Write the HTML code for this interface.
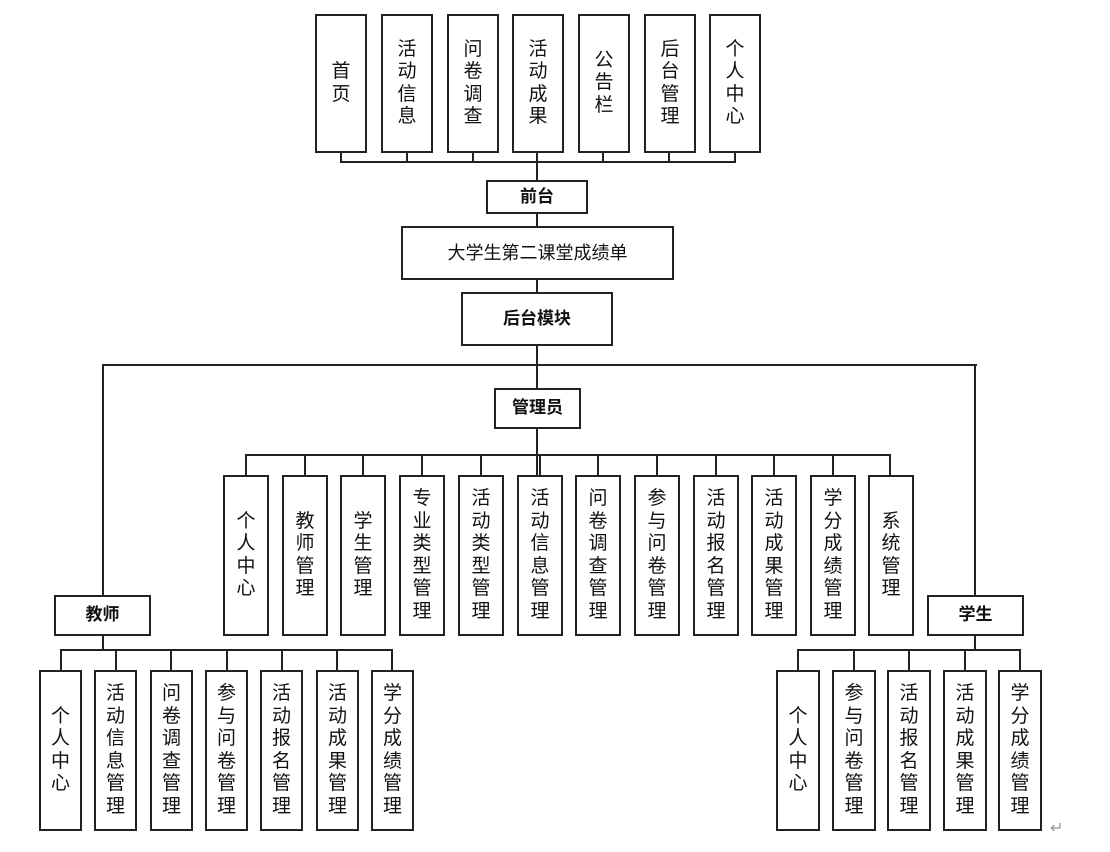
<!DOCTYPE html>
<html><head><meta charset="utf-8"><style>
body{margin:0;width:1110px;height:852px;background:#fff;position:relative;overflow:hidden;font-family:"Liberation Sans","Noto Sans CJK SC",sans-serif;color:#111}
.b{position:absolute;border:2px solid #222;box-sizing:border-box;display:flex;align-items:center;justify-content:center;text-align:center;font-size:19px;line-height:22.5px;background:#fff}
.b span{display:block;width:1.05em;word-break:break-all}
.h{font-weight:bold;font-size:17px}
.l{position:absolute;background:#222}
</style></head><body>
<!-- top connectors -->
<div class="l" style="left:340px;top:151px;width:2px;height:12px"></div>
<div class="l" style="left:406px;top:151px;width:2px;height:12px"></div>
<div class="l" style="left:472px;top:151px;width:2px;height:12px"></div>
<div class="l" style="left:602px;top:151px;width:2px;height:12px"></div>
<div class="l" style="left:668px;top:151px;width:2px;height:12px"></div>
<div class="l" style="left:734px;top:151px;width:2px;height:12px"></div>
<div class="l" style="left:340px;top:161px;width:396px;height:2px"></div>
<div class="l" style="left:536px;top:151px;width:2px;height:346px"></div>
<div class="l" style="left:102px;top:364px;width:875px;height:2px"></div>
<div class="l" style="left:102px;top:364px;width:2px;height:232px"></div>
<div class="l" style="left:974px;top:364px;width:2px;height:232px"></div>
<!-- admin connectors -->
<div class="l" style="left:245px;top:454px;width:646px;height:2px"></div>
<div class="l" style="left:245px;top:454px;width:2px;height:22px"></div>
<div class="l" style="left:304px;top:454px;width:2px;height:22px"></div>
<div class="l" style="left:362px;top:454px;width:2px;height:22px"></div>
<div class="l" style="left:421px;top:454px;width:2px;height:22px"></div>
<div class="l" style="left:480px;top:454px;width:2px;height:22px"></div>
<div class="l" style="left:539px;top:454px;width:2px;height:22px"></div>
<div class="l" style="left:597px;top:454px;width:2px;height:22px"></div>
<div class="l" style="left:656px;top:454px;width:2px;height:22px"></div>
<div class="l" style="left:715px;top:454px;width:2px;height:22px"></div>
<div class="l" style="left:773px;top:454px;width:2px;height:22px"></div>
<div class="l" style="left:832px;top:454px;width:2px;height:22px"></div>
<div class="l" style="left:889px;top:454px;width:2px;height:22px"></div>
<!-- teacher connectors -->
<div class="l" style="left:102px;top:634px;width:2px;height:16px"></div>
<div class="l" style="left:60px;top:649px;width:333px;height:2px"></div>
<div class="l" style="left:60px;top:649px;width:2px;height:22px"></div>
<div class="l" style="left:115px;top:649px;width:2px;height:22px"></div>
<div class="l" style="left:170px;top:649px;width:2px;height:22px"></div>
<div class="l" style="left:226px;top:649px;width:2px;height:22px"></div>
<div class="l" style="left:281px;top:649px;width:2px;height:22px"></div>
<div class="l" style="left:336px;top:649px;width:2px;height:22px"></div>
<div class="l" style="left:391px;top:649px;width:2px;height:22px"></div>
<!-- student connectors -->
<div class="l" style="left:974px;top:634px;width:2px;height:16px"></div>
<div class="l" style="left:797px;top:649px;width:224px;height:2px"></div>
<div class="l" style="left:797px;top:649px;width:2px;height:22px"></div>
<div class="l" style="left:853px;top:649px;width:2px;height:22px"></div>
<div class="l" style="left:908px;top:649px;width:2px;height:22px"></div>
<div class="l" style="left:964px;top:649px;width:2px;height:22px"></div>
<div class="l" style="left:1019px;top:649px;width:2px;height:22px"></div>

<!-- top boxes -->
<div class="b" style="left:315px;top:14px;width:52px;height:139px"><span>首页</span></div>
<div class="b" style="left:381px;top:14px;width:52px;height:139px"><span>活动信息</span></div>
<div class="b" style="left:447px;top:14px;width:52px;height:139px"><span>问卷调查</span></div>
<div class="b" style="left:512px;top:14px;width:52px;height:139px"><span>活动成果</span></div>
<div class="b" style="left:578px;top:14px;width:52px;height:139px"><span>公告栏</span></div>
<div class="b" style="left:644px;top:14px;width:52px;height:139px"><span>后台管理</span></div>
<div class="b" style="left:709px;top:14px;width:52px;height:139px"><span>个人中心</span></div>

<div class="b h" style="left:486px;top:180px;width:102px;height:34px">前台</div>
<div class="b" style="left:401px;top:226px;width:273px;height:54px;font-size:18px">大学生第二课堂成绩单</div>
<div class="b h" style="left:461px;top:292px;width:152px;height:54px">后台模块</div>
<div class="b h" style="left:494px;top:388px;width:87px;height:41px">管理员</div>

<!-- admin boxes -->
<div class="b" style="left:223px;top:475px;width:46px;height:161px"><span>个人中心</span></div>
<div class="b" style="left:282px;top:475px;width:46px;height:161px"><span>教师管理</span></div>
<div class="b" style="left:340px;top:475px;width:46px;height:161px"><span>学生管理</span></div>
<div class="b" style="left:399px;top:475px;width:46px;height:161px"><span>专业类型管理</span></div>
<div class="b" style="left:458px;top:475px;width:46px;height:161px"><span>活动类型管理</span></div>
<div class="b" style="left:517px;top:475px;width:46px;height:161px"><span>活动信息管理</span></div>
<div class="b" style="left:575px;top:475px;width:46px;height:161px"><span>问卷调查管理</span></div>
<div class="b" style="left:634px;top:475px;width:46px;height:161px"><span>参与问卷管理</span></div>
<div class="b" style="left:693px;top:475px;width:46px;height:161px"><span>活动报名管理</span></div>
<div class="b" style="left:751px;top:475px;width:46px;height:161px"><span>活动成果管理</span></div>
<div class="b" style="left:810px;top:475px;width:46px;height:161px"><span>学分成绩管理</span></div>
<div class="b" style="left:868px;top:475px;width:46px;height:161px"><span>系统管理</span></div>

<div class="b h" style="left:54px;top:595px;width:97px;height:41px">教师</div>
<div class="b h" style="left:927px;top:595px;width:97px;height:41px">学生</div>

<!-- teacher boxes -->
<div class="b" style="left:39px;top:670px;width:43px;height:161px"><span>个人中心</span></div>
<div class="b" style="left:94px;top:670px;width:43px;height:161px"><span>活动信息管理</span></div>
<div class="b" style="left:150px;top:670px;width:43px;height:161px"><span>问卷调查管理</span></div>
<div class="b" style="left:205px;top:670px;width:43px;height:161px"><span>参与问卷管理</span></div>
<div class="b" style="left:260px;top:670px;width:43px;height:161px"><span>活动报名管理</span></div>
<div class="b" style="left:316px;top:670px;width:43px;height:161px"><span>活动成果管理</span></div>
<div class="b" style="left:371px;top:670px;width:43px;height:161px"><span>学分成绩管理</span></div>

<!-- student boxes -->
<div class="b" style="left:776px;top:670px;width:44px;height:161px"><span>个人中心</span></div>
<div class="b" style="left:832px;top:670px;width:44px;height:161px"><span>参与问卷管理</span></div>
<div class="b" style="left:887px;top:670px;width:44px;height:161px"><span>活动报名管理</span></div>
<div class="b" style="left:943px;top:670px;width:44px;height:161px"><span>活动成果管理</span></div>
<div class="b" style="left:998px;top:670px;width:44px;height:161px"><span>学分成绩管理</span></div>
<div style="position:absolute;left:1050px;top:818px;font-size:16px;color:#999">↵</div>
</body></html>
